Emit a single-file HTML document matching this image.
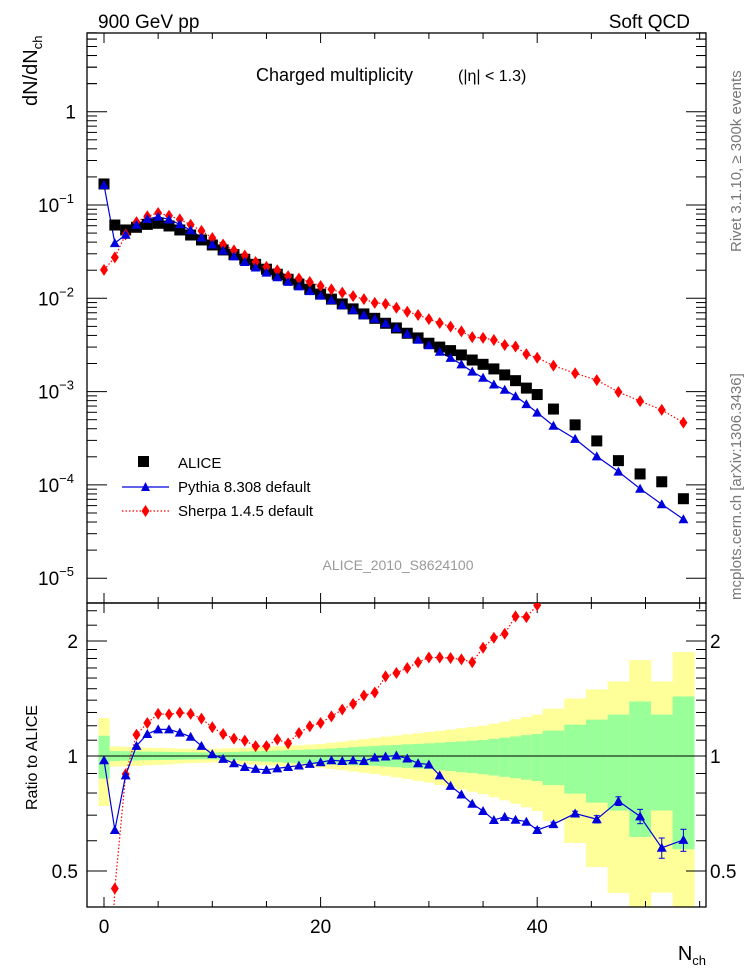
<!DOCTYPE html>
<html><head><meta charset="utf-8"><style>
html,body{margin:0;padding:0;background:#fff;overflow:hidden;width:746px;height:972px;}
svg{display:block;font-family:"Liberation Sans",sans-serif;}
</style></head><body>
<svg id="c" width="746" height="972" viewBox="0 0 746 972" xmlns="http://www.w3.org/2000/svg">
<defs>
<clipPath id="cm"><rect x="87" y="33" width="619" height="570"/></clipPath>
<clipPath id="cr"><rect x="87" y="603" width="619" height="304"/></clipPath>
</defs>
<g id="bands" clip-path="url(#cr)"></g>
<g id="axes"></g>
<g id="main" clip-path="url(#cm)"></g>
<g id="ratio" clip-path="url(#cr)"></g>
<text x="98" y="28" font-size="19">900 GeV pp</text>
<text x="690" y="28" font-size="19" text-anchor="end">Soft QCD</text>
<text x="256" y="81" font-size="18">Charged multiplicity</text>
<text x="458" y="81" font-size="16">(|η| &lt; 1.3)</text>
<text transform="translate(37,106) rotate(-90)" font-size="20">dN/dN<tspan font-size="13" dy="5">ch</tspan></text>
<text transform="translate(37,810) rotate(-90)" font-size="16">Ratio to ALICE</text>
<text x="706" y="960" font-size="20" text-anchor="end">N<tspan font-size="13" dy="5">ch</tspan></text>
<text transform="translate(741,252) rotate(-90)" font-size="15" fill="#777">Rivet 3.1.10, ≥ 300k events</text>
<text transform="translate(741,600) rotate(-90)" font-size="15" fill="#777">mcplots.cern.ch [arXiv:1306.3436]</text>
<text x="398" y="570" font-size="14" fill="#999" text-anchor="middle">ALICE_2010_S8624100</text>
<g>
<rect x="138" y="456" width="11" height="11" fill="#000"/>
<text x="178" y="468" font-size="15">ALICE</text>
<line x1="122" y1="487" x2="169" y2="487" stroke="#0000dd" stroke-width="1.2"/>
<polygon points="145.5,482 141,491 150,491" fill="#0000dd"/>
<text x="178" y="492" font-size="15">Pythia 8.308 default</text>
<line x1="122" y1="511" x2="169" y2="511" stroke="#ff0000" stroke-width="1.2" stroke-dasharray="1.5,2"/>
<polygon points="145.5,505 149.5,511 145.5,517 141.5,511" fill="#ff0000"/>
<text x="178" y="516" font-size="15">Sherpa 1.4.5 default</text>
</g>
</svg>
<script>
const nch = [0,1,2,3,4,5,6,7,8,9,10,11,12,13,14,15,16,17,18,19,20,21,22,23,24,25,26,27,28,29,30,31,32,33,34,35,36,37,38,39,40,41.5,43.5,45.5,47.5,49.5,51.5,53.5];
const binLo = [-0.5,0.5,1.5,2.5,3.5,4.5,5.5,6.5,7.5,8.5,9.5,10.5,11.5,12.5,13.5,14.5,15.5,16.5,17.5,18.5,19.5,20.5,21.5,22.5,23.5,24.5,25.5,26.5,27.5,28.5,29.5,30.5,31.5,32.5,33.5,34.5,35.5,36.5,37.5,38.5,39.5,40.5,42.5,44.5,46.5,48.5,50.5,52.5];
const binHi = [0.5,1.5,2.5,3.5,4.5,5.5,6.5,7.5,8.5,9.5,10.5,11.5,12.5,13.5,14.5,15.5,16.5,17.5,18.5,19.5,20.5,21.5,22.5,23.5,24.5,25.5,26.5,27.5,28.5,29.5,30.5,31.5,32.5,33.5,34.5,35.5,36.5,37.5,38.5,39.5,40.5,42.5,44.5,46.5,48.5,50.5,52.5,54.5];
const alice = [0.168,0.061,0.054,0.0577,0.062,0.0637,0.0596,0.054,0.0477,0.0422,0.0373,0.033,0.0294,0.0262,0.0231,0.0205,0.0181,0.0160,0.0142,0.0125,0.0111,0.0098,0.0087,0.0077,0.0068,0.0061,0.0054,0.00481,0.00422,0.00376,0.0033,0.0030,0.00275,0.00247,0.00218,0.00196,0.00175,0.00151,0.00131,0.00109,0.00093,0.00065,0.00044,0.000296,0.000182,0.000131,0.000108,0.0000711];
const pythiaRatio = [0.975,0.64,0.89,1.063,1.142,1.174,1.174,1.151,1.123,1.063,1.011,0.983,0.957,0.936,0.925,0.92,0.928,0.936,0.944,0.954,0.963,0.975,0.97,0.975,0.97,0.991,0.997,1.003,0.985,0.957,0.95,0.89,0.835,0.793,0.75,0.718,0.68,0.693,0.681,0.673,0.64,0.663,0.707,0.683,0.762,0.695,0.575,0.603];
const pythiaErr = [0,0,0,0,0,0,0,0,0,0,0,0,0,0,0,0,0,0,0,0,0,0,0,0,0,0,0,0,0,0,0,0,0,0,0,0,0,0,0,0,0.01,0.008,0.01,0.015,0.02,0.03,0.035,0.04];
const sherpaRatio = [0.12,0.45,0.896,1.137,1.22,1.289,1.285,1.299,1.289,1.253,1.189,1.142,1.11,1.097,1.061,1.061,1.105,1.079,1.149,1.196,1.22,1.27,1.323,1.369,1.44,1.466,1.616,1.649,1.70,1.76,1.81,1.81,1.805,1.79,1.76,1.92,2.04,2.09,2.32,2.31,2.48,2.92,3.57,4.49,5.44,6.03,5.89,6.54];
const yellowHi = [1.257,1.059,1.057,1.055,1.052,1.05,1.048,1.046,1.045,1.044,1.044,1.046,1.048,1.05,1.053,1.056,1.06,1.063,1.067,1.071,1.075,1.083,1.091,1.099,1.107,1.115,1.123,1.131,1.139,1.147,1.156,1.164,1.173,1.182,1.191,1.2,1.215,1.23,1.248,1.265,1.283,1.33,1.414,1.493,1.567,1.783,1.567,1.872];
const yellowLo = [0.74,0.939,0.94,0.942,0.945,0.948,0.951,0.955,0.958,0.96,0.962,0.959,0.955,0.952,0.948,0.945,0.942,0.939,0.936,0.934,0.932,0.925,0.918,0.911,0.904,0.897,0.888,0.879,0.87,0.861,0.852,0.84,0.829,0.818,0.806,0.795,0.78,0.765,0.75,0.734,0.718,0.676,0.592,0.512,0.438,0.3,0.439,0.3];
const greenHi = [1.13,1.03,1.029,1.028,1.027,1.026,1.025,1.024,1.023,1.022,1.021,1.023,1.025,1.027,1.029,1.031,1.033,1.035,1.037,1.04,1.042,1.046,1.05,1.055,1.059,1.063,1.066,1.069,1.073,1.076,1.079,1.083,1.088,1.092,1.097,1.101,1.109,1.117,1.125,1.134,1.142,1.165,1.208,1.245,1.283,1.389,1.283,1.432];
const greenLo = [0.873,0.97,0.972,0.974,0.975,0.976,0.977,0.978,0.979,0.98,0.981,0.978,0.975,0.972,0.969,0.966,0.963,0.96,0.957,0.955,0.952,0.95,0.948,0.946,0.944,0.942,0.938,0.935,0.931,0.928,0.924,0.918,0.913,0.907,0.902,0.896,0.889,0.882,0.875,0.867,0.86,0.839,0.797,0.755,0.72,0.614,0.72,0.57];
const xTicks = [0,20,40];
const yTickLabels = ["1","10","10","10","10","10"];
const ratioTicks = [0.5,1,2];

const NS="http://www.w3.org/2000/svg";
const L=87,R=706,T=33,MB=603,RB=907;
const X=v=>104+(v)*10.83;
const Y=v=>111.7-93.3*Math.log10(v);
const RY=v=>756-115*Math.log2(v);
function mk(tag,attrs,parent){const e=document.createElementNS(NS,tag);for(const k in attrs)e.setAttribute(k,attrs[k]);parent.appendChild(e);return e;}
const gA=document.getElementById('axes'),gM=document.getElementById('main'),gR=document.getElementById('ratio'),gB=document.getElementById('bands');

for(let i=0;i<nch.length;i++){
  const y1=mk('rect',{x:X(binLo[i]),y:RY(yellowHi[i]),width:X(binHi[i])-X(binLo[i])+0.3,height:RY(yellowLo[i])-RY(yellowHi[i]),fill:'#ffff99'},gB);
  
  
  const g1=mk('rect',{x:X(binLo[i]),y:RY(greenHi[i]),width:X(binHi[i])-X(binLo[i])+0.3,height:RY(greenLo[i])-RY(greenHi[i]),fill:'#99ff99'},gB);
  
  
}
mk('line',{x1:L,y1:RY(1),x2:R,y2:RY(1),stroke:'#000','stroke-width':1},gB);

mk('rect',{x:L,y:T,width:R-L,height:MB-T,fill:'none',stroke:'#000','stroke-width':1.3},gA);
mk('rect',{x:L,y:MB,width:R-L,height:RB-MB,fill:'none',stroke:'#000','stroke-width':1.3},gA);
for(let v=0;v<=55;v+=5){
  const big=v%20===0; const h=big?10:6;
  for(const [yb,dir] of [[MB,-1],[T,1],[RB,-1],[MB,1]]){
    mk('line',{x1:X(v),y1:yb,x2:X(v),y2:yb+dir*h,stroke:'#000','stroke-width':1},gA);
  }
}
xTicks.forEach(v=>{const t=mk('text',{x:X(v),y:RB+26,'font-size':19,'text-anchor':'middle'},gA);t.textContent=v;

});
for(let e=-5;e<=0;e++){
  for(let m=1;m<=9;m++){
    const v=m*Math.pow(10,e); const y=Y(v); if(y<T||y>MB)continue;
    const h=m===1?20:10;
    mk('line',{x1:L,y1:y,x2:L+h,y2:y,stroke:'#000','stroke-width':1},gA);
    mk('line',{x1:R,y1:y,x2:R-h,y2:y,stroke:'#000','stroke-width':1},gA);
  }
}
for(let m=2;m<=7;m++){const y=Y(m);mk('line',{x1:L,y1:y,x2:L+10,y2:y,stroke:'#000'},gA);mk('line',{x1:R,y1:y,x2:R-10,y2:y,stroke:'#000'},gA);}
yTickLabels.forEach((s,i)=>{
  const y=Y(Math.pow(10,-i));
  const t=mk('text',{x:i===0?76:38,y:y+7,'font-size':19,'text-anchor':i===0?'end':'start'},gA);
  
  
  t.textContent=s;
  if(i>0){const sp=mk('tspan',{'font-size':13,dy:-9},t);sp.textContent='−'+i;}
});
const rt=[0.4,0.5,0.6,0.7,0.8,0.9,1,1.1,1.2,1.3,1.4,1.5,1.6,1.7,1.8,1.9,2,2.2,2.4];
rt.forEach(v=>{const y=RY(v);if(y<MB||y>RB)return;const big=ratioTicks.includes(v);const h=big?20:10;
mk('line',{x1:L,y1:y,x2:L+h,y2:y,stroke:'#000'},gA);mk('line',{x1:R,y1:y,x2:R-h,y2:y,stroke:'#000'},gA);});
ratioTicks.forEach(v=>{
  const s=String(v);
  const t1=mk('text',{x:78,y:RY(v)+7,'font-size':19,'text-anchor':'end'},gA);t1.textContent=s;
  
  
  const t2=mk('text',{x:710,y:RY(v)+7,'font-size':19},gA);t2.textContent=s;
  
  
});

function tri(g,x,y,name){const p=mk('polygon',{points:`${x},${y-5} ${x-5},${y+4} ${x+5},${y+4}`,fill:'#0000dd'},g);

}
function dia(g,x,y,name){const p=mk('polygon',{points:`${x},${y-6} ${x+4},${y} ${x},${y+6} ${x-4},${y}`,fill:'#ff0000'},g);

}
const pythia=alice.map((a,i)=>a*pythiaRatio[i]);
const sherpa=alice.map((a,i)=>a*sherpaRatio[i]);

mk('polyline',{points:nch.map((n,i)=>X(n)+','+Y(sherpa[i])).join(' '),fill:'none',stroke:'#ff0000','stroke-width':1.2,'stroke-dasharray':'1.5,2'},gM);
mk('polyline',{points:nch.map((n,i)=>X(n)+','+Y(pythia[i])).join(' '),fill:'none',stroke:'#0000dd','stroke-width':1.2},gM);
nch.forEach((n,i)=>{
  const r=mk('rect',{x:X(n)-5.5,y:Y(alice[i])-5.5,width:11,height:11,fill:'#000'},gM);
  
  
});
nch.forEach((n,i)=>dia(gM,X(n),Y(sherpa[i]),'sherpa-point'));
nch.forEach((n,i)=>tri(gM,X(n),Y(pythia[i]),'pythia-point'));

mk('polyline',{points:nch.map((n,i)=>X(n)+','+RY(sherpaRatio[i])).join(' '),fill:'none',stroke:'#ff0000','stroke-width':1.2,'stroke-dasharray':'1.5,2'},gR);
mk('polyline',{points:nch.map((n,i)=>X(n)+','+RY(pythiaRatio[i])).join(' '),fill:'none',stroke:'#0000dd','stroke-width':1.2},gR);
nch.forEach((n,i)=>dia(gR,X(n),RY(sherpaRatio[i]),'sherpa-ratio-point'));
nch.forEach((n,i)=>{
  if(pythiaErr[i]>0){
    const y1=RY(pythiaRatio[i]+pythiaErr[i]),y2=RY(pythiaRatio[i]-pythiaErr[i]),x=X(n);
    mk('line',{x1:x,y1:y1,x2:x,y2:y2,stroke:'#0000dd'},gR);
    mk('line',{x1:x-3,y1:y1,x2:x+3,y2:y1,stroke:'#0000dd'},gR);
    mk('line',{x1:x-3,y1:y2,x2:x+3,y2:y2,stroke:'#0000dd'},gR);
  }
  tri(gR,X(n),RY(pythiaRatio[i]),'pythia-ratio-point');
});
</script>
</body></html>
